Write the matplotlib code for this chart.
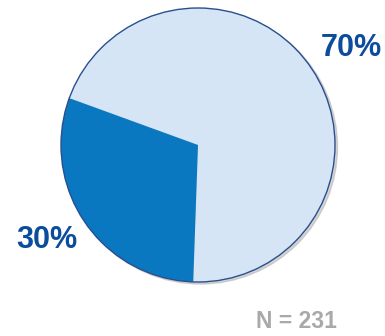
import matplotlib.pyplot as plt
from matplotlib.patches import Circle

labels = ["70%", "30%"]
shares = [70, 30]
colors = ["#d5e5f6", "#0a78c0"]
sample_note = "N = 231"

fig = plt.figure(figsize=(3.85, 3.36), dpi=100)
ax = fig.add_axes([0, 0, 1, 1])

cx, cy, r = 198, 191, 137

# soft drop shadow behind the pie
ax.add_patch(Circle((cx + 2.5, cy - 2), r, color="#b8b8b8", alpha=0.6, zorder=0))

ax.pie(shares, colors=colors, startangle=268, counterclock=True,
       center=(cx, cy), radius=r, frame=True,
       wedgeprops=dict(linewidth=0, edgecolor="none"))
ax.set_xlim(0, 385)
ax.set_ylim(0, 336)
ax.set_aspect("equal")
ax.axis("off")
ax.add_patch(Circle((cx, cy), r, fill=False, edgecolor="#2a4f8f", linewidth=1.0, zorder=5))

label_color = "#0b4d9c"
ax.text(351, 336 - 48, labels[0], ha="center", va="center", fontsize=22,
        fontweight="bold", color=label_color, family="Liberation Sans")
ax.text(47, 336 - 240, labels[1], ha="center", va="center", fontsize=22,
        fontweight="bold", color=label_color, family="Liberation Sans")
ax.text(296, 336 - 322, sample_note, ha="center", va="center", fontsize=16.5,
        fontweight="bold", color="#a9a9a9", family="Liberation Sans")

fig.savefig("out.png", dpi=100)
